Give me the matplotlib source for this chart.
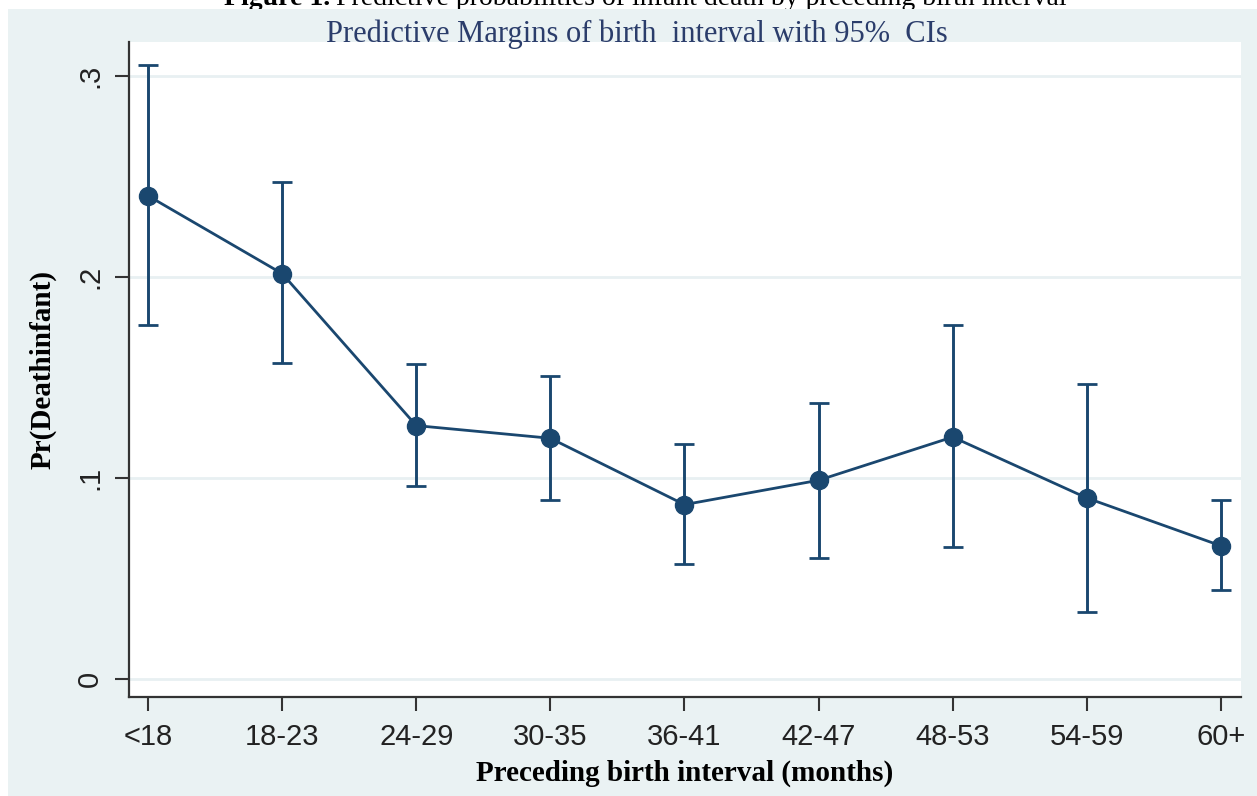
import matplotlib
matplotlib.use("Agg")
import matplotlib.pyplot as plt
from matplotlib.patches import Rectangle
import numpy as np

# predictive margins of infant death by preceding birth interval
intervals = ['<18', '18-23', '24-29', '30-35', '36-41', '42-47', '48-53', '54-59', '60+']
margin = [0.2405, 0.2018, 0.1262, 0.1199, 0.0869, 0.0990, 0.1205, 0.0902, 0.0664]
ci_low = [0.1760, 0.1571, 0.0960, 0.0890, 0.0573, 0.0605, 0.0656, 0.0334, 0.0444]
ci_high = [0.3058, 0.2472, 0.1570, 0.1508, 0.1168, 0.1372, 0.1760, 0.1468, 0.0894]
ytick_vals = [0, 0.1, 0.2, 0.3]
ytick_labels = ['0', '.1', '.2', '.3']

navy = '#1a476f'
panel = '#eaf2f3'

fig = plt.figure(figsize=(12.57, 7.96), dpi=100)
fig.patch.set_facecolor('white')
band = Rectangle((8 / 1257, 0), 1, 1 - 9 / 796, transform=fig.transFigure,
                 facecolor=panel, edgecolor='none', zorder=-5)
fig.patches.append(band)

# caption of the page, cut off at the top (the band hides its lower part)
fig.text(330 / 1257, 1 - 5 / 796, 'Figure 1.', ha='right', va='baseline',
         family='Liberation Serif', weight='bold', fontsize=20, color='black', zorder=-10)
fig.text(336 / 1257, 1 - 5 / 796,
         'Predictive probabilities of infant death by preceding birth interval',
         ha='left', va='baseline', family='Liberation Serif', fontsize=20, color='black',
         zorder=-10)

ax = fig.add_axes([129 / 1257, 99 / 796, (1241 - 129) / 1257, (697 - 42) / 796])
ax.set_facecolor('white')

x = np.arange(len(intervals))
m = np.array(margin)
lo = m - np.array(ci_low)
hi = np.array(ci_high) - m

ax.errorbar(x, m, yerr=[lo, hi], fmt='none', ecolor=navy, elinewidth=2.1,
            capsize=7, capthick=2.0, zorder=3)
ax.plot(x, m, color=navy, lw=2.0, marker='o', markersize=13,
        markerfacecolor=navy, markeredgecolor=navy, zorder=4)

ax.set_xlim(-0.142, 8.15)
ax.set_ylim(-0.0088, 0.317)

ax.set_yticks(ytick_vals)
ax.set_yticklabels(ytick_labels, rotation=90, va='center', family='Liberation Sans',
                   fontsize=21, color='#222222')
ax.set_xticks(x)
ax.set_xticklabels(intervals, family='Liberation Sans', fontsize=21, color='#222222')

ax.grid(axis='y', color='#e8f0f2', lw=2)
ax.set_axisbelow(True)

for s in ['top', 'right']:
    ax.spines[s].set_visible(False)
for s in ['left', 'bottom']:
    ax.spines[s].set_color('#333333')
    ax.spines[s].set_linewidth(1.6)

ax.tick_params(axis='both', length=10, width=1.5, color='#333333')
ax.tick_params(axis='x', pad=9)
ax.tick_params(axis='y', pad=8)

ax.set_xlabel('Preceding birth interval (months)', family='Liberation Serif',
              weight='bold', fontsize=21, labelpad=6)
ax.set_ylabel('Pr(Deathinfant)', family='Liberation Serif', weight='bold',
              fontsize=21, labelpad=14)

fig.text(637 / 1257, 1 - 34 / 796, 'Predictive Margins of birth  interval with 95%  CIs',
         ha='center', va='center', family='Liberation Serif', fontsize=22, color='#2b3d6b')

fig.savefig('out.png', dpi=100, facecolor=fig.get_facecolor())
